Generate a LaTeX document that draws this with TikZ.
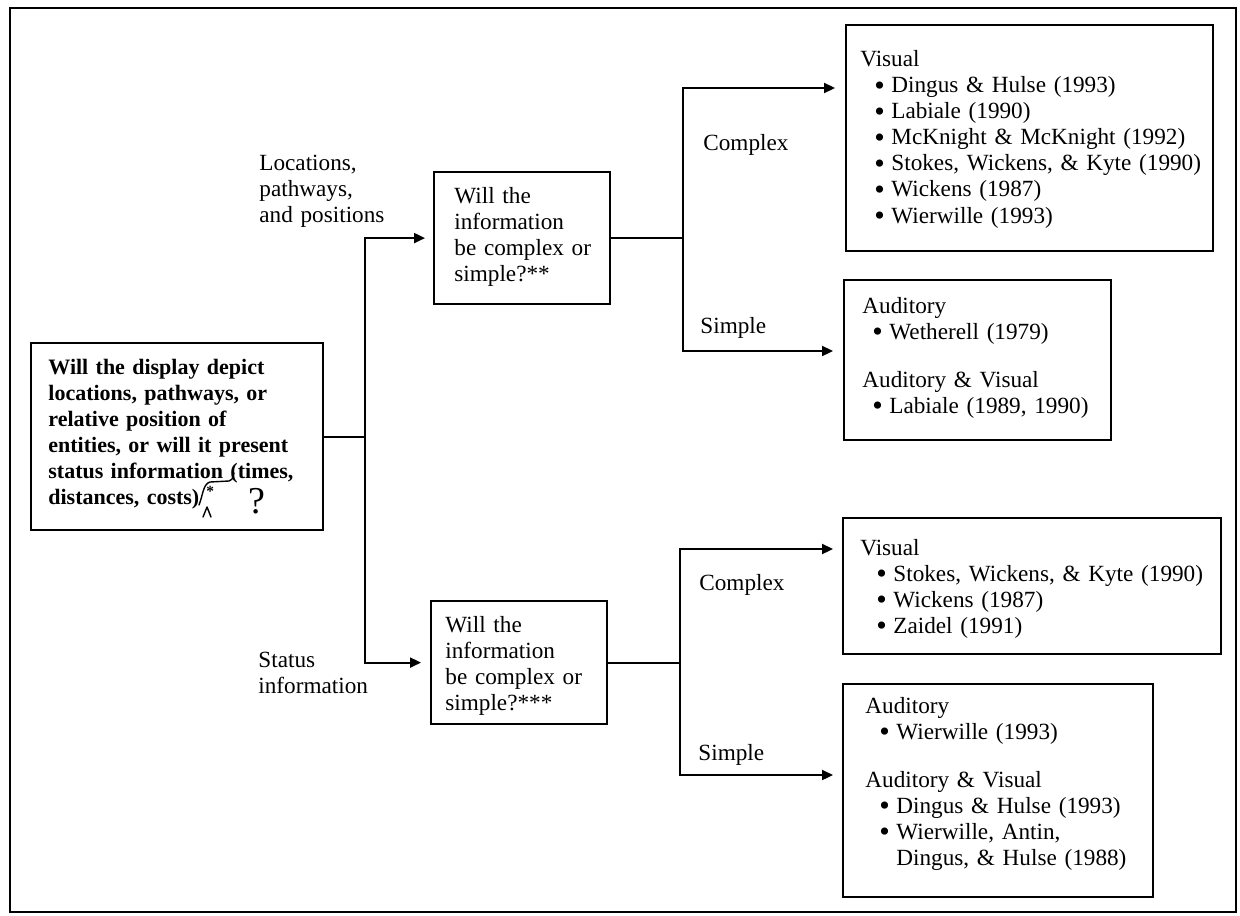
\documentclass[tikz,border=0pt]{standalone}
\usepackage{fontspec}
\setmainfont{Liberation Serif}
\usetikzlibrary{arrows.meta}
% bullet item: indent, then a fixed-width bullet cell
\newcommand{\itm}[1][7pt]{\hspace*{#1}\makebox[8.5pt][l]{\raisebox{-1.3pt}[0pt][0pt]{\fontsize{15}{13}\selectfont\textbullet}}}
\begin{document}
\begin{tikzpicture}[x=0.5pt,y=-0.5pt,
  box/.style={draw, line width=1.1pt, inner sep=0pt, anchor=north west},
  txt/.style={anchor=base west, inner sep=0pt, align=left, text width=#1,
              font=\fontsize{11.6}{13}\selectfont},
  txt/.default=190pt,
  wire/.style={line width=1.1pt},
  arr/.style={-{Triangle[length=5.5pt,width=5pt]}},
  ink/.style={line width=0.7pt, line cap=round, line join=round}]

\useasboundingbox (0,0) rectangle (1240,915);
\draw[line width=1pt] (10,8) rectangle (1236,912);

% boxes
\node[box, minimum width=146pt,   minimum height=93.5pt] (main) at (30,342)  {};
\node[box, minimum width=88pt,    minimum height=66pt]   (q1)   at (433,171) {};
\node[box, minimum width=88pt,    minimum height=61.5pt] (q2)   at (430,600) {};
\node[box, minimum width=183.5pt, minimum height=113pt]  (r1)   at (845,24)  {};
\node[box, minimum width=133.5pt, minimum height=80pt]   (r2)   at (843,279) {};
\node[box, minimum width=189pt,   minimum height=68pt]   (r3)   at (842,517) {};
\node[box, minimum width=155pt,   minimum height=106.5pt](r4)   at (842,683) {};

% box texts
\node[txt=140pt, font=\fontsize{11}{13}\selectfont\bfseries] (maintxt) at (48,374)
  {Will the display depict\\ locations, pathways, or\\ relative position of\\
   entities, or will it present\\ status information (times,\\ distances, costs)\hspace{3.5pt}\textsuperscript{*}};
\node[txt=85pt] (q1txt) at (454,203) {Will the\\ information\\ be complex or\\ simple?**};
\node[txt=85pt] (q2txt) at (445,632) {Will the\\ information\\ be complex or\\ simple?***};

\node[txt] (r1txt) at (860,67)
  {Visual\\
   \itm Dingus \& Hulse (1993)\\
   \itm Labiale (1990)\\
   \itm McKnight \& McKnight (1992)\\
   \itm Stokes, Wickens, \& Kyte (1990)\\
   \itm Wickens (1987)\\
   \itm Wierwille (1993)};
\node[txt] (r2txt) at (862,313)
  {Auditory\\
   \itm[5pt]Wetherell (1979)\\[11pt]
   Auditory \& Visual\\
   \itm[5pt]Labiale (1989, 1990)};
\node[txt] (r3txt) at (860,555)
  {Visual\\
   \itm[8pt]Stokes, Wickens, \& Kyte (1990)\\
   \itm[8pt]Wickens (1987)\\
   \itm[8pt]Zaidel (1991)};
\node[txt] (r4txt) at (865,713)
  {Auditory\\
   \itm Wierwille (1993)\\[11pt]
   Auditory \& Visual\\
   \itm Dingus \& Hulse (1993)\\
   \itm Wierwille, Antin,\\
   \hspace*{15.5pt}Dingus, \& Hulse (1988)};

% branch labels
\node[txt=90pt] (lloc) at (259,170) {Locations,\\ pathways,\\ and positions};
\node[txt=90pt] (lstat) at (258,667) {Status\\ information};
\node[txt=60pt] (lc1) at (703,150) {Complex};
\node[txt=60pt] (ls1) at (700,333) {Simple};
\node[txt=60pt] (lc2) at (699,590) {Complex};
\node[txt=60pt] (ls2) at (698,760) {Simple};

% connectors
\coordinate (sp) at (365,433);
\coordinate (b1) at (683,235);
\coordinate (b2) at (680,663);
\draw[wire] (main.east) -- (main.east -| sp);
\draw[wire,arr,shorten >=4pt] (q2.west -| sp) |- (q1.west);
\draw[wire,arr,shorten >=4.5pt] (q1.west -| sp) |- (q2.west);
\draw[wire] (q1.east) -- (q1.east -| b1);
\draw[wire,arr,shorten >=5pt] (q1.east -| b1) |- (r1.west |- 0,88);
\draw[wire,arr,shorten >=5pt] (q1.east -| b1) |- (r2.west |- 0,351);
\draw[wire] (q2.east) -- (q2.east -| b2);
\draw[wire,arr,shorten >=4.5pt] (q2.east -| b2) |- (r3.west |- 0,549);
\draw[wire,arr,shorten >=4.5pt] (q2.east -| b2) |- (r4.west |- 0,775);

% pen marks on the first question
\draw[ink] (199,505) .. controls (203,495) and (203,484) .. (210,482)
           -- (229,481) .. controls (232,480) .. (234,473);
\draw[ink] (203,517) -- (207,507) -- (211,517);
\node[inner sep=0pt, font=\fontsize{19}{19}\selectfont] (qm) at (257,501) {?};
\end{tikzpicture}
\end{document}
